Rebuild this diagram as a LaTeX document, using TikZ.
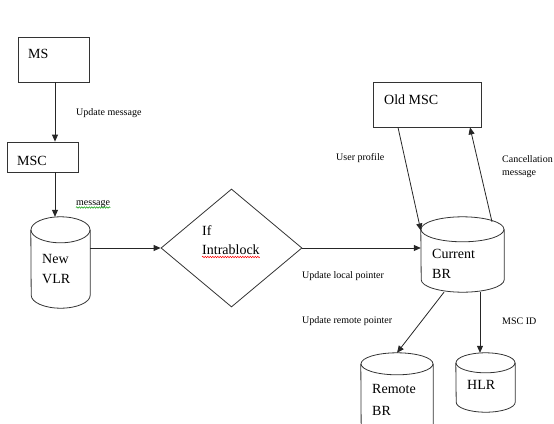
\documentclass[tikz,border=0pt]{standalone}
\usepackage{fontspec}
\setmainfont{Liberation Serif}
\usetikzlibrary{shapes.geometric,arrows.meta,decorations.pathmorphing}

% a data base drawn as a cylinder round a plain node
% #1 name, #2 x, #3 y, #4 width, #5 height, #6 half height of the ends
\newcommand{\dbnode}[6]{%
  \node (#1) at (#2,#3) [rectangle,inner sep=0pt,minimum width=#4,minimum height=#5] {};
  \draw[dbline] ([yshift=-#6]#1.north east) -- ([yshift=#6]#1.south east)
    arc[start angle=0,end angle=-180,x radius=#4/2*1pt,y radius=#6pt]
    -- ([yshift=-#6]#1.north west);
  \draw[dbline] ([yshift=-#6]#1.north) ellipse[x radius=#4/2*1pt,y radius=#6pt];
}

\begin{document}
\begin{tikzpicture}[x=1pt,y=-1pt,
  box/.style={rectangle,draw=black!80,line width=0.8pt,inner sep=0pt},
  dbline/.style={draw=black!80,line width=0.8pt},
  cond/.style={diamond,draw=black!80,line width=0.8pt,inner sep=0pt},
  big/.style={anchor=base west,inner sep=0pt,font=\fontsize{14}{16}\selectfont},
  lbl/.style={anchor=base west,inner sep=0pt,font=\fontsize{10}{12}\selectfont},
  arr/.style={-{Triangle[length=7pt,width=6pt]},draw=black!85,line width=0.8pt},
  wavy/.style={decorate,decoration={snake,amplitude=0.7pt,segment length=2.5pt},line width=0.5pt}]
\useasboundingbox (0,0) rectangle (554,423);

% boxes
\node (ms) at (53.5,59.5) [box,minimum width=71,minimum height=45] {};
\node (msc) at (42.5,157) [box,minimum width=71,minimum height=30] {};
\node (old) at (427,104.5) [box,minimum width=108,minimum height=45] {};

% data bases and the test
\dbnode{vlr}{60.5}{262.5}{59}{91}{13}
\node (dia) at (231.5,248) [cond,minimum width=141,minimum height=118] {};
\dbnode{cur}{462.5}{254.5}{83}{75}{12.5}
\dbnode{rbr}{397}{398}{72}{90}{11}
\dbnode{hlr}{485.5}{382.5}{59}{59}{10}

% texts in the shapes
\node (mstext) at (28,58) [big] {MS};
\node (msctext) at (17,165) [big] {MSC};
\node (oldtext) at (384,104) [big] {Old MSC};
\node (vlrtext) at (42,263) [big] {New};
\node (vlrtext2) at (42,283) [big] {VLR};
\node (iftext) at (202,235) [big] {If};
\node (iftext2) at (202,254) [big] {Intrablock};
\node (curtext) at (432,258) [big] {Current};
\node (curtext2) at (432,278) [big] {BR};
\node (rbrtext) at (372,393) [big] {Remote};
\node (rbrtext2) at (372,415) [big] {BR};
\node (hlrtext) at (467,389) [big] {HLR};

% labels
\node (updmsg) at (76,115) [lbl] {Update message};
\node (msg) at (76,205) [lbl] {message};
\node (prof) at (336,160) [lbl] {User profile};
\node (canc) at (502,162) [lbl] {Cancellation};
\node (canc2) at (502,175) [lbl] {message};
\node (local) at (302,278) [lbl] {Update local pointer};
\node (remote) at (302,323) [lbl] {Update remote pointer};
\node (mscid) at (502,324) [lbl] {MSC ID};

\draw[wavy,green!60!black] ([yshift=-2.5]msg.base west) -- ([yshift=-2.5]msg.base east);
\draw[wavy,red] ([yshift=-3]iftext2.base west) -- ([yshift=-3]iftext2.base east);

% connectors
\draw[arr] ([xshift=1.5]ms.south) -- ([xshift=1.5]ms.south |- msc.north);
\draw[arr] ([xshift=12.5]msc.south) -- ([xshift=12.5]msc.south |- vlr.north);
\draw[arr] (vlr.east |- dia.west) -- (dia.west);
\draw[arr] (dia.east) -- (dia.east -| cur.west);
\draw[arr] ([xshift=-29]old.south) -- ([yshift=24]cur.west);
\draw[arr] ([xshift=29.5,yshift=-5]cur.north) -- ([xshift=43]old.south);
\draw[arr] ([xshift=-18.5]cur.south) -- (rbr.north);
\draw[arr] ([xshift=-5.5]hlr.north |- cur.south) -- ([xshift=-5.5]hlr.north);
\end{tikzpicture}
\end{document}
